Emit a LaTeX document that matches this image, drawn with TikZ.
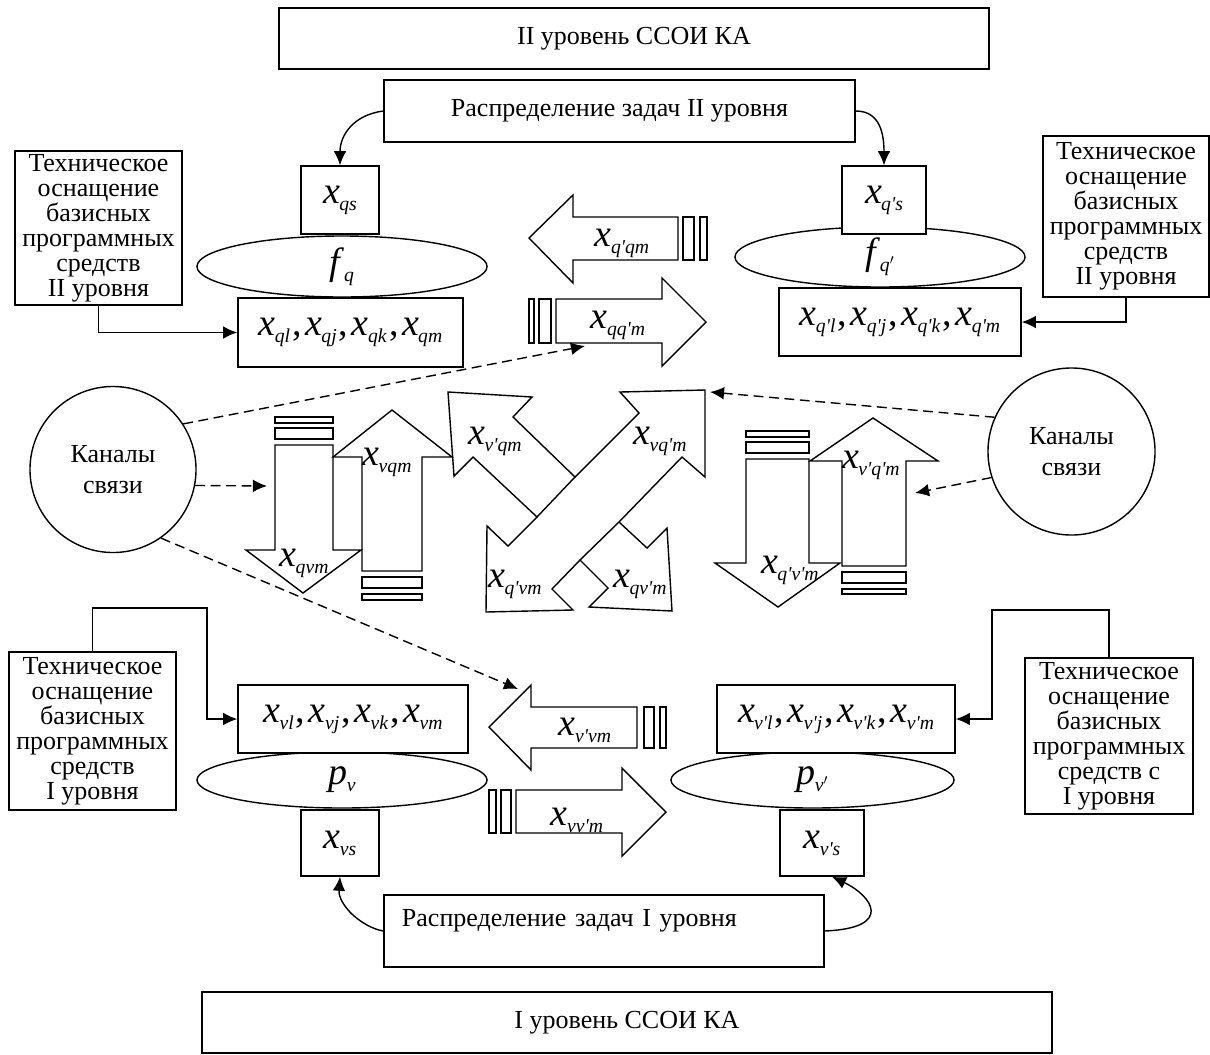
\documentclass[tikz,border=0pt]{standalone}
\usepackage{fontspec}
\setmainfont{Liberation Serif}
\usetikzlibrary{arrows.meta,shapes.geometric}

% variable with subscript, apostrophe, comma between variables
\newcommand{\xs}[2]{\textit{#1}\kern-0.5pt\raisebox{-5pt}{\fontsize{14pt}{14pt}\selectfont\textit{#2}}}
\newcommand{\pq}{\textquotesingle}
\newcommand{\xc}{\kern1.5pt,\kern2.5pt}

\begin{document}
\begin{tikzpicture}[x=0.025cm,y=-0.025cm,
  font=\fontsize{18.5pt}{17.8pt}\selectfont, line width=1pt,
  >={Latex[length=10pt,width=9pt]},
  cell/.style={draw, fill=white, rectangle, inner sep=0pt, align=center},
  oval/.style={draw, ellipse, inner sep=0pt, minimum width=7.25cm},
  chan/.style={draw, circle, inner sep=0pt, minimum size=4.15cm, align=center,
               font=\fontsize{18.5pt}{22.5pt}\selectfont},
  lab/.style={inner sep=0pt, font=\fontsize{27pt}{27pt}\selectfont},
  dsh/.style={dash pattern=on 7pt off 4pt}]
\useasboundingbox (0,0) rectangle (1210,1054);

% ------------------------------------------------ ellipses f and p
\node[oval, lab, minimum height=1.525cm] (fq)  at (342,266.5) {\xs{f}{q}};
\node[oval, lab, minimum height=1.5cm]   (fqp) at (880,257)   {\xs{f}{q$'$}};
\node[oval, lab, minimum height=1.4cm]   (pv)  at (342,780)   {\xs{p}{v}};
\node[oval, lab, minimum height=1.4cm, minimum width=7.075cm] (pvp) at (812.5,780) {\xs{p}{v$'$}};

% ------------------------------------------------ level II
\node[cell, minimum width=17.75cm, minimum height=1.525cm] (lvl2) at (634,38.5) {II уровень ССОИ КА};
\node[cell, minimum width=11.775cm, minimum height=1.55cm] (task2) at (619.5,111) {Распределение задач II уровня};

\node[cell, lab, minimum width=1.95cm, minimum height=1.7cm] (xqs)  at (340,200) {\xs{x}{qs}};
\node[cell, lab, minimum width=2.1cm,  minimum height=1.7cm] (xqps) at (884,200) {\xs{x}{q\pq s}};

\node[cell, lab, minimum width=5.625cm, minimum height=1.725cm] (xql) at (350.5,332.5)
  {\xs{x}{ql}\xc\xs{x}{qj}\xc\xs{x}{qk}\xc\xs{x}{qm}};
\node[cell, lab, minimum width=6.05cm, minimum height=1.7cm] (xqpl) at (900,322)
  {\xs{x}{q\pq l}\xc\xs{x}{q\pq j}\xc\xs{x}{q\pq k}\xc\xs{x}{q\pq m}};

\node[cell, minimum width=4.175cm, minimum height=3.85cm] (tech2L) at (98.5,228)
  {Техническое\\оснащение\\базисных\\программных\\средств\\II уровня};
\node[cell, minimum width=4.15cm, minimum height=4.025cm] (tech2R) at (1126,216.5)
  {Техническое\\оснащение\\базисных\\программных\\средств\\II уровня};

% ------------------------------------------------ level I
\node[cell, lab, minimum width=5.75cm, minimum height=1.7cm] (xvl) at (353,719)
  {\xs{x}{vl}\xc\xs{x}{vj}\xc\xs{x}{vk}\xc\xs{x}{vm}};
\node[cell, lab, minimum width=5.95cm, minimum height=1.7cm] (xvpl) at (836,719)
  {\xs{x}{v\pq l}\xc\xs{x}{v\pq j}\xc\xs{x}{v\pq k}\xc\xs{x}{v\pq m}};

\node[cell, lab, minimum width=1.95cm, minimum height=1.65cm] (xvs)  at (340,843) {\xs{x}{vs}};
\node[cell, lab, minimum width=2.1cm,  minimum height=1.65cm] (xvps) at (822,843) {\xs{x}{v\pq s}};

\node[cell, minimum width=4.175cm, minimum height=3.95cm] (tech1L) at (92.5,731)
  {Техническое\\оснащение\\базисных\\программных\\средств\\I уровня};
\node[cell, minimum width=4.2cm, minimum height=3.9cm] (tech1R) at (1109,736)
  {Техническое\\оснащение\\базисных\\программных\\средств с\\I уровня};

\node[cell, minimum width=11cm, minimum height=1.8cm, text width=10.1cm, align=left,
      text depth=18pt] (task1) at (604,931) {Распределение задач I уровня};
\node[cell, minimum width=21.25cm, minimum height=1.525cm] (lvl1) at (627,1022.5) {I уровень ССОИ КА};

% ------------------------------------------------ channels
\node[chan] (chL) at (113,469.5)  {Каналы\\связи};
\node[chan, minimum size=4.175cm] (chR) at (1071.5,451.5) {Каналы\\связи};

% ------------------------------------------------ horizontal arrows
\draw (529,238) -- (573,195) -- (573,217) -- (678,217) -- (678,260) -- (573,260) -- (573,283) -- cycle;
\draw (683,217) rectangle (694,260);  \draw (700,217) rectangle (707,260);
\node[lab] (lqpq) at (622,243) {\xs{x}{q\pq qm}};

\draw (556,299) -- (662,299) -- (662,278) -- (706,322) -- (662,366) -- (662,343) -- (556,343) -- cycle;
\draw (529,299) rectangle (534,343);  \draw (539,299) rectangle (551,343);
\node[lab] (lqqp) at (618,325) {\xs{x}{qq\pq m}};

\draw (489,727) -- (531,685) -- (531,707) -- (637,707) -- (637,748) -- (531,748) -- (531,770) -- cycle;
\draw (644,707) rectangle (654,748);  \draw (660,707) rectangle (666,748);
\node[lab] (lvpv) at (585,730) {\xs{x}{v\pq vm}};

\draw (516,790) -- (622,790) -- (622,768) -- (666,812) -- (622,856) -- (622,833) -- (516,833) -- cycle;
\draw (489,790) rectangle (496,833);  \draw (501,790) rectangle (511,833);
\node[lab] (lvvp) at (577,820) {\xs{x}{vv\pq m}};

% ------------------------------------------------ vertical arrows
\draw (275,445) -- (333,445) -- (333,550) -- (361,550) -- (303,593) -- (246,550) -- (275,550) -- cycle;
\draw (275,428) rectangle (333,439);  \draw (275,417) rectangle (333,423);
\node[lab] (lqv) at (304,563) {\xs{x}{qvm}};

\draw (362,571) -- (362,457) -- (333,457) -- (392,410) -- (452,457) -- (422,457) -- (422,571) -- cycle;
\draw (362,577) rectangle (422,588);  \draw (362,594) rectangle (422,600);
\node[lab] (lvq) at (387,462) {\xs{x}{vqm}};

\draw (746,459) -- (809,459) -- (809,563) -- (840,563) -- (778,607) -- (715,563) -- (746,563) -- cycle;
\draw (746,442) rectangle (809,453);  \draw (746,431) rectangle (809,437);
\node[lab] (lqpvp) at (790,570) {\xs{x}{q\pq v\pq m}};

\draw (842,566) -- (842,461) -- (810,461) -- (873,418) -- (938,461) -- (906,461) -- (906,566) -- cycle;
\draw (842,572) rectangle (906,583);  \draw (842,589) rectangle (906,594);
\node[lab] (lvpqp) at (871,465) {\xs{x}{v\pq q\pq m}};

% ------------------------------------------------ crossed arrows
\draw (705,390) -- (705,477) -- (682,457) -- (619,522) -- (647,548) -- (667,528) -- (672,611)
  -- (589,607) -- (608,588) -- (580,560) -- (552,589) -- (573,610) -- (486,612) -- (487,526)
  -- (508,546) -- (537,517) -- (473,457) -- (454,476) -- (448,392) -- (532,397) -- (513,417)
  -- (575,477) -- (639,413) -- (620,392) -- cycle;
% edges of the long band run through the joints
\draw (575,477) -- (537,517);
\draw (619,522) -- (580,560);
\node[lab] (lvpq) at (495,441) {\xs{x}{v\pq qm}};
\node[lab] (lvqp) at (660,441) {\xs{x}{vq\pq m}};
\node[lab] (lqpv) at (515,584) {\xs{x}{q\pq vm}};
\node[lab] (lqvp) at (640,584) {\xs{x}{qv\pq m}};

% ------------------------------------------------ connectors
\draw[->] (task2.west) .. controls +(-30,4) and +(0,-30) .. (xqs.north);
\draw[->] (task2.east) .. controls +(25,0) and +(0,-30) .. (xqps.north);
\draw[->] (tech2L.south) |- (xql.west);
\draw[->] (tech2R.south) |- (xqpl.east);

\coordinate (bendL) at (207,608);
\coordinate (bendR) at (992,610);
\draw[->] (tech1L.north) |- (bendL) |- (xvl.west);
\draw[->] (tech1R.north) |- (bendR) |- (xvpl.east);

\draw[->] (task1.west) .. controls +(-22,-4) and +(-2,28) .. (xvs.south);
\draw[->] (task1.east) .. controls +(70,-3) and +(40,19) .. ([xshift=0.25cm]xvps.south);

% ------------------------------------------------ dashed links of the channels
\coordinate (tgA) at (585,346);
\coordinate (tgB) at (267,486);
\coordinate (tgC) at (518,689);
\coordinate (tgD) at (710,392);
\coordinate (tgE) at (915,493);
\draw[dsh,->] (chL.33)  -- (tgA);
\draw[dsh,->] (chL.-11) -- (tgB);
\draw[dsh,->] (chL.-55) -- (tgC);
\draw[dsh,->] (chR.156) -- (tgD);
\draw[dsh,->] (chR.198) -- (tgE);

\end{tikzpicture}
\end{document}
